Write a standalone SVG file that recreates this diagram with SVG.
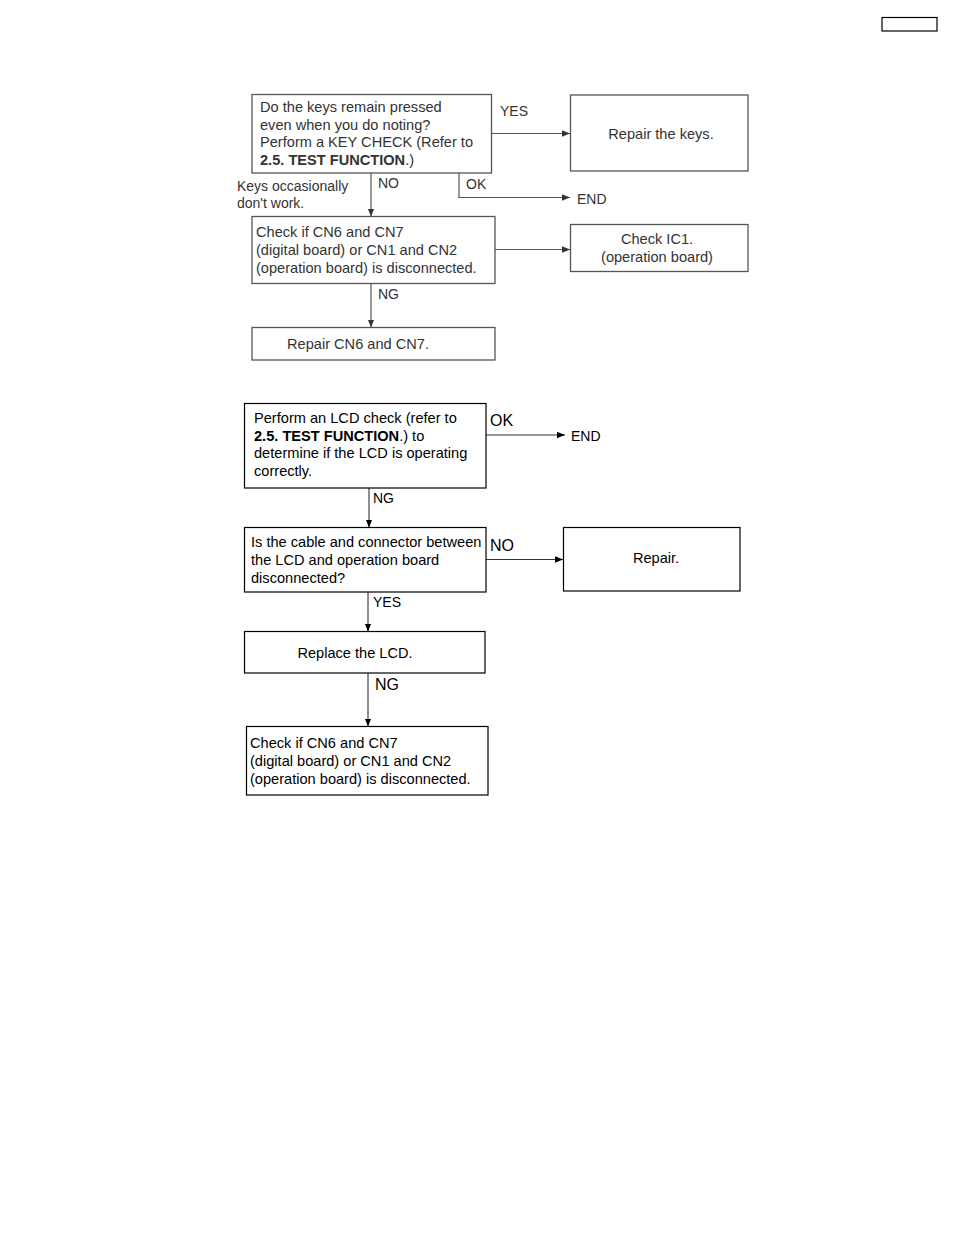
<svg xmlns="http://www.w3.org/2000/svg" width="954" height="1235" viewBox="0 0 954 1235">
<style>
  text { font-family: "Liberation Sans", Arial, sans-serif; font-size: 14px; }
  .m { font-size: 14.6px; }
  .t1 { fill: #333; }
  .t2 { fill: #000; }
  .b1 { fill: #fff; stroke: #555; stroke-width: 1.3; }
  .b2 { fill: #fff; stroke: #000; stroke-width: 1.2; }
  .c1 { fill: none; stroke: #555; stroke-width: 1.2; }
  .c2 { fill: none; stroke: #333; stroke-width: 1.1; }
  .lg { font-size: 16px; }
  .bd { font-weight: bold; }
</style>
<defs>
  <marker id="ah1" viewBox="0 0 10 10" refX="10" refY="5" markerWidth="8" markerHeight="8" markerUnits="userSpaceOnUse" orient="auto">
    <path d="M0,1 L10,5 L0,9 Z" fill="#333"/>
  </marker>
  <marker id="ah2" viewBox="0 0 10 10" refX="10" refY="5" markerWidth="8" markerHeight="8" markerUnits="userSpaceOnUse" orient="auto">
    <path d="M0,1 L10,5 L0,9 Z" fill="#000"/>
  </marker>
</defs>
<rect x="0" y="0" width="954" height="1235" fill="#fff"/>
<rect id="page-tag" x="882" y="17.5" width="55" height="13.5" fill="none" stroke="#000" stroke-width="1.2"/>

<g id="connectors">
  <line class="c1" x1="492" y1="133.5" x2="570" y2="133.5" marker-end="url(#ah1)"/>
  <line class="c1" x1="371" y1="173" x2="371" y2="216.5" marker-end="url(#ah1)"/>
  <polyline class="c1" points="459,173 459,197.5 570,197.5" marker-end="url(#ah1)"/>
  <line class="c1" x1="495" y1="249.5" x2="570" y2="249.5" marker-end="url(#ah1)"/>
  <line class="c1" x1="371" y1="283.5" x2="371" y2="327.5" marker-end="url(#ah1)"/>

  <line class="c2" x1="486" y1="435" x2="565" y2="435" marker-end="url(#ah2)"/>
  <line class="c2" x1="369" y1="488" x2="369" y2="527.5" marker-end="url(#ah2)"/>
  <line class="c2" x1="486" y1="559.5" x2="563" y2="559.5" marker-end="url(#ah2)"/>
  <line class="c2" x1="368" y1="592" x2="368" y2="631.5" marker-end="url(#ah2)"/>
  <line class="c2" x1="368" y1="673" x2="368" y2="726.5" marker-end="url(#ah2)"/>
</g>

<g id="labels">
  <text class="t1" x="500" y="116">YES</text>
  <text class="t1" x="378" y="188">NO</text>
  <text class="t1" x="466" y="189">OK</text>
  <text class="t1" x="577" y="204">END</text>
  <text class="t1" x="237" y="191">Keys occasionally</text>
  <text class="t1" x="237" y="208">don't work.</text>
  <text class="t1" x="378" y="299">NG</text>

  <text class="t2 lg" x="490" y="426">OK</text>
  <text class="t2" x="571" y="441">END</text>
  <text class="t2" x="373" y="503">NG</text>
  <text class="t2 lg" x="490" y="551">NO</text>
  <text class="t2" x="373" y="607">YES</text>
  <text class="t2 lg" x="375" y="690">NG</text>
</g>

<g id="n1">
  <rect class="b1" x="252" y="94.5" width="239.5" height="78.5"/>
  <text class="t1 m" x="260" y="112">Do the keys remain pressed</text>
  <text class="t1 m" x="260" y="130">even when you do noting?</text>
  <text class="t1 m" x="260" y="147">Perform a KEY CHECK (Refer to</text>
  <text class="t1 m" x="260" y="165"><tspan class="bd">2.5. TEST FUNCTION</tspan>.)</text>
</g>
<g id="n2">
  <rect class="b1" x="570.5" y="95" width="177.5" height="76"/>
  <text class="t1 m" x="661" y="139" text-anchor="middle">Repair the keys.</text>
</g>
<g id="n3">
  <rect class="b1" x="252" y="216.5" width="243" height="67"/>
  <text class="t1 m" x="256" y="237">Check if CN6 and CN7</text>
  <text class="t1 m" x="256" y="255">(digital board) or CN1 and CN2</text>
  <text class="t1 m" x="256" y="273">(operation board) is disconnected.</text>
</g>
<g id="n4">
  <rect class="b1" x="570.5" y="224.5" width="177.5" height="47"/>
  <text class="t1 m" x="657" y="244" text-anchor="middle">Check IC1.</text>
  <text class="t1 m" x="657" y="262" text-anchor="middle">(operation board)</text>
</g>
<g id="n5">
  <rect class="b1" x="252" y="327.5" width="243" height="32.5"/>
  <text class="t1 m" x="358" y="349" text-anchor="middle">Repair CN6 and CN7.</text>
</g>

<g id="n6">
  <rect class="b2" x="244.5" y="403.5" width="241.5" height="84.5"/>
  <text class="t2 m" x="254" y="423">Perform an LCD check (refer to</text>
  <text class="t2 m" x="254" y="441"><tspan class="bd">2.5. TEST FUNCTION</tspan>.) to</text>
  <text class="t2 m" x="254" y="458">determine if the LCD is operating</text>
  <text class="t2 m" x="254" y="476">correctly.</text>
</g>
<g id="n7">
  <rect class="b2" x="244.5" y="527.5" width="241.5" height="64.5"/>
  <text class="t2 m" x="251" y="547">Is the cable and connector between</text>
  <text class="t2 m" x="251" y="565">the LCD and operation board</text>
  <text class="t2 m" x="251" y="583">disconnected?</text>
</g>
<g id="n8">
  <rect class="b2" x="563.5" y="527.5" width="176.5" height="63.5"/>
  <text class="t2 m" x="656" y="563" text-anchor="middle">Repair.</text>
</g>
<g id="n9">
  <rect class="b2" x="244.5" y="631.5" width="240.5" height="41.5"/>
  <text class="t2 m" x="355" y="658" text-anchor="middle">Replace the LCD.</text>
</g>
<g id="n10">
  <rect class="b2" x="246.5" y="726.5" width="241.5" height="68.5"/>
  <text class="t2 m" x="250" y="748">Check if CN6 and CN7</text>
  <text class="t2 m" x="250" y="766">(digital board) or CN1 and CN2</text>
  <text class="t2 m" x="250" y="784">(operation board) is disconnected.</text>
</g>
</svg>
